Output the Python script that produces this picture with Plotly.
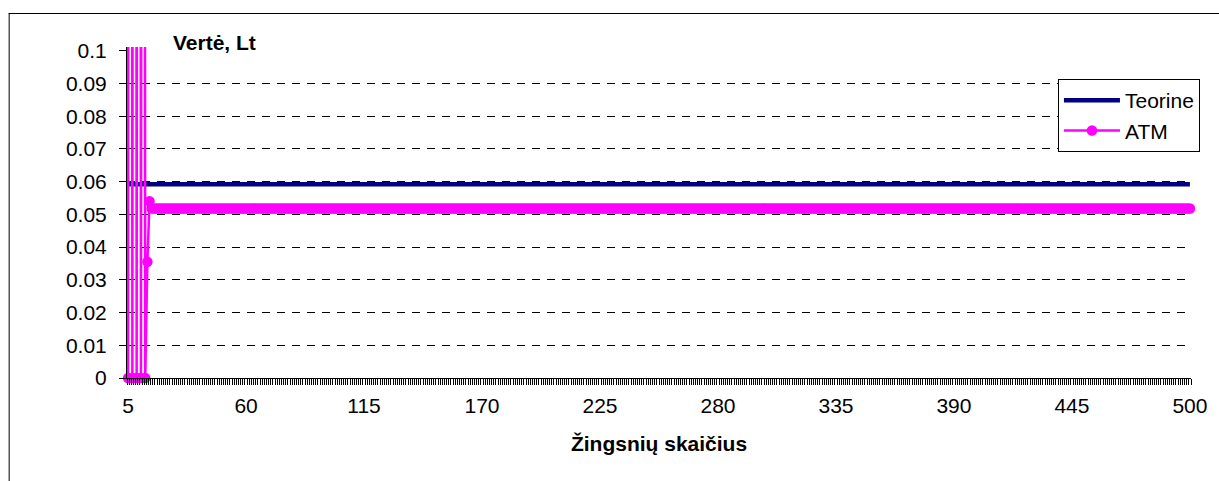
import plotly.graph_objects as go

# Number of steps in the tree (category axis)
steps = list(range(5, 501))

# Theoretical value, constant over all step counts
teorine_value = 0.0592
teorine = [teorine_value] * len(steps)

# ATM estimate: oscillation for small step counts, then a flat plateau
atm_first = [0.0, 1.45, 0.0, 1.2, 0.0, 1.05, 0.0, 0.9, 0.0, 0.0355, 0.054]
atm_plateau = 0.0518
atm = atm_first + [atm_plateau] * (len(steps) - len(atm_first))

y_ticks = [0, 0.01, 0.02, 0.03, 0.04, 0.05, 0.06, 0.07, 0.08, 0.09, 0.1]
y_tick_text = ["0", "0.01", "0.02", "0.03", "0.04", "0.05", "0.06", "0.07", "0.08", "0.09", "0.1"]
grid_values = [0.01, 0.02, 0.03, 0.04, 0.05, 0.06, 0.07, 0.08, 0.09]

W, H = 1219, 481
L, R, T, B = 127, 22, 47, 103
plot_w = W - L - R
plot_h = H - T - B
y_top = 0.1 * plot_h / 327.2

FONT = "Arial, Liberation Sans, sans-serif"
FS = 21


def px_x(px):
    return (px - L) / plot_w


def px_y(py):
    return (H - B - py) / plot_h


fig = go.Figure()
fig.add_trace(go.Scatter(
    x=steps, y=teorine, name="Teorine", mode="lines",
    line=dict(color="#000080", width=4.5),
))
fig.add_trace(go.Scatter(
    x=steps, y=atm, name="ATM", mode="lines+markers",
    line=dict(color="#FF00FF", width=2.5),
    marker=dict(color="#FF00FF", size=10.5, line=dict(width=0)),
    cliponaxis=False,
))

fig.update_layout(
    width=W, height=H,
    margin=dict(l=L, r=R, t=T, b=B, pad=0),
    paper_bgcolor="white", plot_bgcolor="white",
    font=dict(family=FONT, size=FS, color="black"),
    showlegend=True,
    legend=dict(
        x=px_x(1206), y=px_y(152), xanchor="right", yanchor="bottom",
        bgcolor="white", bordercolor="black", borderwidth=1,
        font=dict(family=FONT, size=FS, color="black"),
        itemwidth=56, tracegroupgap=0,
    ),
    xaxis=dict(
        range=[4.5, 500.5], tickmode="linear", tick0=5, dtick=55,
        ticks="outside", ticklen=9, tickcolor="rgba(0,0,0,0)",
        minor=dict(tick0=4.5, dtick=1, ticks="outside", ticklen=6,
                   tickcolor="black", tickwidth=1, showgrid=False),
        showline=True, linecolor="black", linewidth=1,
        showgrid=False, zeroline=False,
        tickfont=dict(family=FONT, size=FS),
        title=dict(text="Žingsnių skaičius", standoff=20,
                   font=dict(family=FONT, size=FS, weight="bold")),
    ),
    yaxis=dict(
        range=[0, y_top], tickmode="array", tickvals=y_ticks, ticktext=y_tick_text,
        ticks="outside", ticklen=7, tickcolor="black", tickwidth=1,
        ticklabelstandoff=8,
        showline=True, linecolor="black", linewidth=1,
        showgrid=False, zeroline=False,
        tickfont=dict(family=FONT, size=FS),
    ),
    yaxis2=dict(
        range=[0, y_top], overlaying="y", side="left",
        tickmode="array", tickvals=grid_values, showticklabels=False, ticks="",
        showgrid=True, gridcolor="black", gridwidth=1, griddash="8px,7px",
        showline=False, zeroline=False,
    ),
    annotations=[dict(
        text="<b>Vertė, Lt</b>", xref="paper", yref="paper",
        x=px_x(215), y=px_y(42), xanchor="center", yanchor="middle",
        showarrow=False, font=dict(family=FONT, size=FS, color="black"),
    )],
    shapes=[
        dict(type="line", xref="paper", yref="paper",
             x0=px_x(8), x1=px_x(W + 10), y0=px_y(13.5), y1=px_y(13.5),
             line=dict(color="black", width=1)),
        dict(type="line", xref="paper", yref="paper",
             x0=px_x(8.5), x1=px_x(8.5), y0=px_y(13), y1=px_y(H + 10),
             line=dict(color="black", width=1)),
    ],
)

# invisible trace to bind the grid axis
fig.add_trace(go.Scatter(x=[steps[0]], y=[0], yaxis="y2", mode="none",
                         showlegend=False, hoverinfo="skip"))

fig.write_html("out.html")
